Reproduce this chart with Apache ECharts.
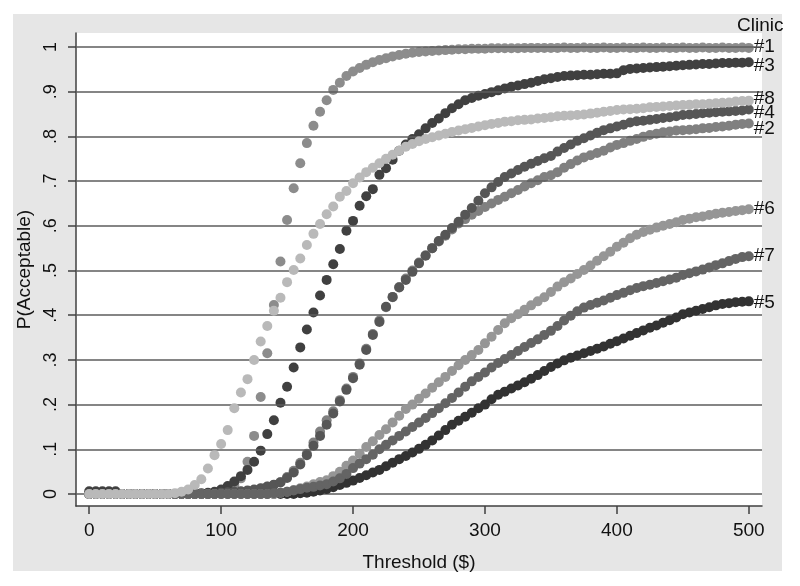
<!DOCTYPE html>
<html>
<head>
<meta charset="utf-8">
<script src="https://cdn.jsdelivr.net/npm/echarts@6/dist/echarts.min.js"></script>
<style>
html, body { margin: 0; padding: 0; background: #fff; }
#main { width: 800px; height: 586px; }
</style>
</head>
<body>
<div id="main"></div>
<script>
// threshold values ($), one point every 5
var threshold = [
  0, 5, 10, 15, 20, 25, 30, 35, 40, 45,
  50, 55, 60, 65, 70, 75, 80, 85, 90, 95,
  100, 105, 110, 115, 120, 125, 130, 135, 140, 145,
  150, 155, 160, 165, 170, 175, 180, 185, 190, 195,
  200, 205, 210, 215, 220, 225, 230, 235, 240, 245,
  250, 255, 260, 265, 270, 275, 280, 285, 290, 295,
  300, 305, 310, 315, 320, 325, 330, 335, 340, 345,
  350, 355, 360, 365, 370, 375, 380, 385, 390, 395,
  400, 405, 410, 415, 420, 425, 430, 435, 440, 445,
  450, 455, 460, 465, 470, 475, 480, 485, 490, 495,
  500
];

// P(Acceptable) per clinic
var clinic1 = [
  0, 0, 0, 0, 0, 0, 0, 0, 0, 0,
  0, 0, 0, 0, 0, 0, 0, 0, 0, 0.003,
  0.006, 0.012, 0.02, 0.035, 0.072, 0.13, 0.217, 0.315, 0.423, 0.52,
  0.613, 0.684, 0.74, 0.785, 0.824, 0.855, 0.881, 0.904, 0.92, 0.935,
  0.945, 0.953, 0.96, 0.966, 0.971, 0.975, 0.979, 0.982, 0.985, 0.987,
  0.989, 0.99, 0.991, 0.992, 0.993, 0.994, 0.995, 0.995, 0.996, 0.996,
  0.996, 0.997, 0.997, 0.997, 0.997, 0.997, 0.998, 0.998, 0.998, 0.998,
  0.998, 0.998, 0.999, 0.998, 0.998, 0.999, 0.998, 0.998, 0.999, 0.998,
  0.998, 0.999, 0.998, 0.998, 0.999, 0.998, 0.998, 0.999, 0.998, 0.998,
  0.999, 0.998, 0.998, 0.999, 0.998, 0.998, 0.999, 0.998, 0.998, 0.999,
  0.998
];
var clinic2 = [
  0, 0, 0, 0, 0, 0, 0, 0, 0, 0,
  0, 0, 0, 0, 0, 0, 0, 0, 0, 0,
  0.002, 0.003, 0.004, 0.005, 0.007, 0.009, 0.012, 0.016, 0.02, 0.027,
  0.038, 0.052, 0.07, 0.09, 0.115, 0.14, 0.165, 0.185, 0.21, 0.236,
  0.262, 0.292, 0.325, 0.358, 0.388, 0.418, 0.44, 0.463, 0.482, 0.5,
  0.518, 0.534, 0.55, 0.565, 0.578, 0.592, 0.605, 0.615, 0.625, 0.633,
  0.642, 0.65, 0.658, 0.665, 0.673, 0.68, 0.688, 0.695, 0.702, 0.709,
  0.713, 0.72, 0.73, 0.738, 0.746, 0.753, 0.758, 0.763, 0.768, 0.775,
  0.781, 0.785, 0.79, 0.794, 0.799, 0.803, 0.806, 0.809, 0.811, 0.813,
  0.814, 0.815, 0.816, 0.818, 0.819, 0.821, 0.822, 0.824, 0.826, 0.828,
  0.829
];
var clinic3 = [
  0.006, 0.006, 0.006, 0.006, 0.006, 0, 0, 0, 0, 0,
  0, 0, 0, 0, 0, 0, 0, 0.002, 0.003, 0.005,
  0.01, 0.018, 0.028, 0.04, 0.054, 0.072, 0.097, 0.134, 0.165, 0.204,
  0.24, 0.283, 0.328, 0.368, 0.406, 0.444, 0.479, 0.514, 0.548, 0.589,
  0.611, 0.645, 0.666, 0.682, 0.714, 0.729, 0.748, 0.768, 0.782, 0.794,
  0.805, 0.818, 0.83, 0.84, 0.852, 0.863, 0.872, 0.881, 0.886, 0.891,
  0.895, 0.899, 0.903, 0.907, 0.911, 0.914, 0.917, 0.92, 0.924, 0.928,
  0.93, 0.933, 0.935, 0.936, 0.937, 0.938, 0.938, 0.939, 0.94, 0.94,
  0.941, 0.948, 0.951, 0.952, 0.953, 0.954, 0.955, 0.956, 0.957, 0.958,
  0.959, 0.96, 0.961, 0.962, 0.962, 0.963, 0.964, 0.964, 0.965, 0.965,
  0.966
];
var clinic4 = [
  0, 0, 0, 0, 0, 0, 0, 0, 0, 0,
  0, 0, 0, 0, 0, 0, 0, 0, 0, 0,
  0.003, 0.004, 0.005, 0.006, 0.008, 0.01, 0.013, 0.017, 0.021, 0.026,
  0.036, 0.048, 0.066, 0.087, 0.108, 0.13, 0.155, 0.18, 0.207, 0.233,
  0.259, 0.289, 0.322, 0.356, 0.385, 0.419, 0.441, 0.462, 0.479, 0.497,
  0.516, 0.533, 0.55, 0.566, 0.58, 0.595, 0.609, 0.625, 0.64, 0.656,
  0.673, 0.686, 0.698, 0.709, 0.717, 0.725, 0.732, 0.739, 0.745, 0.751,
  0.756, 0.766, 0.774, 0.782, 0.79, 0.796, 0.802, 0.808, 0.814, 0.818,
  0.822, 0.826, 0.831, 0.834, 0.835, 0.837, 0.839, 0.841, 0.843, 0.845,
  0.848, 0.849, 0.85, 0.852, 0.853, 0.854, 0.855, 0.856, 0.857, 0.858,
  0.86
];
var clinic5 = [
  0, 0, 0, 0, 0, 0, 0, 0, 0, 0,
  0, 0, 0, 0, 0, 0, 0, 0, 0, 0,
  0, 0, 0, 0, 0, 0, 0, 0, 0, 0,
  0, 0, 0.002, 0.003, 0.005, 0.008, 0.011, 0.015, 0.02, 0.025,
  0.03, 0.036, 0.042, 0.048, 0.054, 0.062, 0.07, 0.078, 0.085, 0.093,
  0.101, 0.11, 0.12, 0.131, 0.143, 0.155, 0.164, 0.173, 0.182, 0.192,
  0.2, 0.212, 0.222, 0.229, 0.236, 0.243, 0.25, 0.258, 0.266, 0.275,
  0.284, 0.292, 0.299, 0.305, 0.31, 0.315, 0.32, 0.325, 0.33, 0.336,
  0.342, 0.348, 0.354, 0.36, 0.366, 0.372, 0.377, 0.383, 0.389, 0.395,
  0.402, 0.406, 0.41, 0.414, 0.418, 0.422, 0.425, 0.427, 0.429, 0.43,
  0.431
];
var clinic6 = [
  0, 0, 0, 0, 0, 0, 0, 0, 0, 0,
  0, 0, 0, 0, 0, 0, 0, 0, 0, 0,
  0, 0, 0, 0, 0, 0, 0, 0, 0, 0.003,
  0.005, 0.009, 0.013, 0.017, 0.022, 0.027, 0.031, 0.04, 0.05, 0.063,
  0.075, 0.09, 0.105, 0.118, 0.132, 0.145, 0.16, 0.175, 0.19, 0.2,
  0.213, 0.225, 0.238, 0.25, 0.262, 0.275, 0.288, 0.3, 0.311, 0.322,
  0.337, 0.352, 0.367, 0.382, 0.393, 0.402, 0.412, 0.422, 0.431, 0.44,
  0.452, 0.464, 0.474, 0.482, 0.492, 0.501, 0.511, 0.522, 0.532, 0.542,
  0.553, 0.562, 0.572, 0.58, 0.586, 0.591, 0.596, 0.6, 0.604, 0.608,
  0.613, 0.616, 0.619, 0.621, 0.624, 0.627, 0.629, 0.631, 0.633, 0.635,
  0.637
];
var clinic7 = [
  0, 0, 0, 0, 0, 0, 0, 0, 0, 0,
  0, 0, 0, 0, 0, 0, 0, 0, 0, 0,
  0, 0, 0, 0, 0, 0, 0, 0, 0.002, 0.003,
  0.005, 0.008, 0.011, 0.014, 0.016, 0.019, 0.022, 0.028, 0.035, 0.045,
  0.058, 0.068, 0.078, 0.088, 0.1, 0.11, 0.12, 0.13, 0.14, 0.15,
  0.16, 0.17, 0.181, 0.192, 0.203, 0.215, 0.227, 0.24, 0.252, 0.262,
  0.272, 0.283, 0.293, 0.302, 0.311, 0.32, 0.329, 0.338, 0.346, 0.356,
  0.365, 0.376, 0.388, 0.399, 0.409, 0.417, 0.423, 0.428, 0.433, 0.439,
  0.445, 0.45, 0.456, 0.461, 0.465, 0.468, 0.472, 0.476, 0.48, 0.484,
  0.49, 0.494, 0.498, 0.502, 0.507, 0.512, 0.516, 0.521, 0.526, 0.53,
  0.532
];
var clinic8 = [
  0, 0, 0, 0, 0, 0, 0, 0, 0, 0,
  0, 0, 0, 0.002, 0.005, 0.01, 0.02, 0.033, 0.057, 0.087,
  0.112, 0.143, 0.192, 0.227, 0.257, 0.3, 0.341, 0.376, 0.41, 0.439,
  0.474, 0.501, 0.527, 0.557, 0.582, 0.604, 0.626, 0.643, 0.665, 0.678,
  0.695, 0.708, 0.72, 0.73, 0.74, 0.75, 0.759, 0.768, 0.777, 0.783,
  0.789, 0.794, 0.798, 0.802, 0.806, 0.81, 0.813, 0.816, 0.819, 0.822,
  0.825, 0.828, 0.83, 0.833, 0.834, 0.836, 0.837, 0.838, 0.84, 0.841,
  0.843, 0.845, 0.846, 0.847, 0.848, 0.849, 0.851, 0.853, 0.855, 0.857,
  0.859, 0.86, 0.861, 0.862, 0.863, 0.865, 0.866, 0.867, 0.868, 0.869,
  0.87, 0.871, 0.872, 0.872, 0.873, 0.874, 0.875, 0.876, 0.878, 0.879,
  0.88
];

var clinicNames = ['#1', '#2', '#3', '#4', '#5', '#6', '#7', '#8'];
var clinicValues = [clinic1, clinic2, clinic3, clinic4, clinic5, clinic6, clinic7, clinic8];
var clinicColors = ['#8c8c8c', '#808080', '#404040', '#565656', '#323232', '#969696', '#646464', '#b9b9b9'];
var labelShift = [-1, 5, 4, 3, 1, 0, 0, -2];

var xTicks = [0, 100, 200, 300, 400, 500];
var yTicks = [0, 0.1, 0.2, 0.3, 0.4, 0.5, 0.6, 0.7, 0.8, 0.9, 1];

var font = 'Liberation Sans, Arial, sans-serif';

var myChart = echarts.init(document.getElementById('main'));

function makeData(vals, name, shift) {
    return vals.map(function (v, i) {
        var item = { value: [threshold[i], v] };
        if (i === vals.length - 1) {
            item.label = {
                show: true,
                formatter: name,
                position: 'right',
                distance: 0,
                offset: [0, shift],
                color: '#111',
                fontSize: 19,
                fontFamily: font
            };
        }
        return item;
    });
}

var series = [{
    // horizontal grid lines
    type: 'line',
    data: [],
    z: 1,
    markLine: {
        silent: true,
        animation: false,
        symbol: ['none', 'none'],
        label: { show: false },
        lineStyle: { color: '#5c5c5c', width: 1.6, type: 'solid' },
        data: yTicks.map(function (v) { return { yAxis: v }; })
    }
}];

clinicNames.forEach(function (name, k) {
    series.push({
        name: name,
        type: 'scatter',
        symbol: 'circle',
        symbolSize: 10,
        z: 2 + k,
        itemStyle: { color: clinicColors[k], opacity: 1 },
        data: makeData(clinicValues[k], name, labelShift[k])
    });
});

var option = {
    backgroundColor: '#fff',
    animation: false,
    graphic: [
        {
            type: 'rect',
            z: -100,
            shape: { x: 13, y: 14, width: 769, height: 557 },
            style: { fill: '#e6e6e6' }
        },
        {
            type: 'text',
            left: 737,
            top: 16,
            style: { text: 'Clinic', fill: '#111', fontSize: 19, fontFamily: font }
        }
    ],
    grid: {
        left: 76,
        right: 38,
        top: 33,
        bottom: 80,
        show: true,
        backgroundColor: '#fff',
        borderWidth: 0
    },
    xAxis: {
        type: 'value',
        min: -10,
        max: 510,
        name: 'Threshold ($)',
        nameLocation: 'middle',
        nameGap: 47,
        nameTextStyle: { color: '#111', fontSize: 19, fontFamily: font },
        splitLine: { show: false },
        axisLine: { show: true, onZero: false, lineStyle: { color: '#404040', width: 1.5 } },
        axisTick: { show: true, customValues: xTicks, length: 8, lineStyle: { color: '#404040', width: 1.5 } },
        axisLabel: { customValues: xTicks, color: '#111', fontSize: 19, fontFamily: font, margin: 15 }
    },
    yAxis: {
        type: 'value',
        min: -0.0268,
        max: 1.0313,
        name: 'P(Acceptable)',
        nameLocation: 'middle',
        nameGap: 42,
        nameTextStyle: { color: '#111', fontSize: 19, fontFamily: font },
        splitLine: { show: false },
        axisLine: { show: true, onZero: false, lineStyle: { color: '#404040', width: 1.5 } },
        axisTick: { show: true, customValues: yTicks, length: 8, lineStyle: { color: '#404040', width: 1.5 } },
        axisLabel: {
            customValues: yTicks,
            rotate: 90,
            color: '#111',
            fontSize: 18,
            fontFamily: font,
            margin: 16,
            formatter: function (v) {
                if (v === 0) return '0';
                if (v === 1) return '1';
                return String(v).replace(/^0/, '');
            }
        }
    },
    series: series
};

myChart.setOption(option);
</script>
</body>
</html>
